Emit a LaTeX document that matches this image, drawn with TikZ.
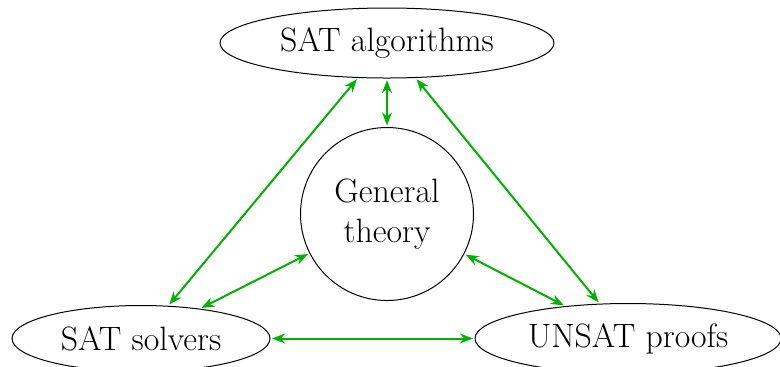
\documentclass[tikz,border=0pt]{standalone}
\usetikzlibrary{shapes.geometric,arrows.meta}
\definecolor{linkgreen}{RGB}{0,178,0}
\tikzset{
  topic/.style={ellipse,draw,line width=0.5pt,inner sep=0pt,
    font=\fontsize{16.9}{20}\selectfont},
  hub/.style={circle,draw,line width=0.5pt,inner sep=0pt,align=center,
    minimum size=86.5pt,font=\fontsize{16.9}{20}\selectfont},
  link/.style={linkgreen,line width=1pt,
    {Stealth[length=6.5pt,width=5pt]}-{Stealth[length=6.5pt,width=5pt]},
    shorten >=0.8pt,shorten <=0.8pt}
}
\begin{document}
\begin{tikzpicture}[x=1pt,y=1pt]
  \useasboundingbox (0,0) rectangle (390,-183);
  \node[topic,minimum width=167pt,minimum height=35pt] (alg) at (193.5,-21.5) {SAT algorithms};
  \node[hub] (thy) at (193.5,-107) {General\\theory};
  \node[topic,minimum width=129pt,minimum height=33pt] (sol) at (70.5,-169.25) {SAT solvers};
  \node[topic,minimum width=153pt,minimum height=35pt] (uns) at (314,-169.25) {UNSAT proofs};
  \draw[link] (alg) -- (thy);
  \draw[link] (alg) -- (sol);
  \draw[link] (alg) -- (uns);
  \draw[link] (thy) -- (sol);
  \draw[link] (thy) -- (uns);
  \draw[link] (sol) -- (uns);
\end{tikzpicture}
\end{document}
